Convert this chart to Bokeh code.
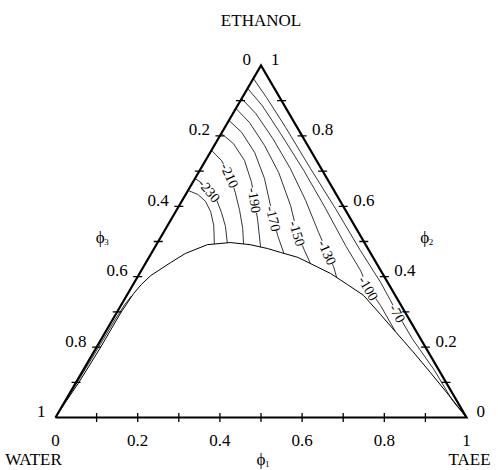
import numpy as np
from bokeh.plotting import figure
from bokeh.models import Range1d
from bokeh.embed import file_html
from bokeh.resources import INLINE
from bokeh.core.properties import value

FONT = "Liberation Serif"

# ---------------- data (ternary compositions: phi1 = TAEE, phi2 = ETHANOL) ----
vertex_names = ["WATER", "TAEE", "ETHANOL"]
vertex_phi1 = [0.0, 1.0, 0.0]
vertex_phi2 = [0.0, 0.0, 1.0]

major_ticks = [0.0, 0.2, 0.4, 0.6, 0.8, 1.0]
major_labels = ["0", "0.2", "0.4", "0.6", "0.8", "1"]
minor_ticks = [0.1, 0.2, 0.3, 0.4, 0.5, 0.6, 0.7, 0.8, 0.9]
axis_subscripts = ["1", "2", "3"]

binodal_phi1 = [0.000, 0.003, 0.007, 0.010, 0.010, 0.014, 0.020, 0.030, 0.060, 0.083,
                0.124, 0.177, 0.228, 0.276, 0.313, 0.362, 0.465, 0.521, 0.576, 0.644,
                0.705, 0.775, 0.848, 0.933, 1.000]
binodal_phi2 = [0.000, 0.048, 0.099, 0.196, 0.298, 0.352, 0.378, 0.403, 0.440, 0.466,
                0.491, 0.497, 0.491, 0.480, 0.469, 0.455, 0.409, 0.378, 0.347, 0.293,
                0.244, 0.188, 0.128, 0.057, 0.000]

# contour lines, labelled levels
c70_phi1 = [0.000, 0.059, 0.148, 0.267, 0.384, 0.505, 0.599, 0.684, 0.756, 0.855, 0.942, 1.000]
c70_phi2 = [0.963, 0.909, 0.824, 0.707, 0.594, 0.474, 0.384, 0.296, 0.224, 0.134, 0.048, 0.000]
c100_phi1 = [0.000, 0.060, 0.144, 0.253, 0.360, 0.461, 0.533, 0.578, 0.632, 0.705]
c100_phi2 = [0.935, 0.886, 0.807, 0.702, 0.594, 0.489, 0.418, 0.367, 0.318, 0.244]
c130_phi1 = [0.000, 0.055, 0.132, 0.218, 0.300, 0.377, 0.427, 0.462, 0.485]
c130_phi2 = [0.906, 0.864, 0.793, 0.707, 0.617, 0.526, 0.469, 0.429, 0.398]
c150_phi1 = [0.000, 0.053, 0.122, 0.195, 0.271, 0.327, 0.369, 0.402]
c150_phi2 = [0.878, 0.838, 0.773, 0.696, 0.602, 0.523, 0.474, 0.437]
c170_phi1 = [0.000, 0.048, 0.108, 0.169, 0.222, 0.248, 0.282, 0.322]
c170_phi2 = [0.844, 0.810, 0.753, 0.679, 0.602, 0.565, 0.517, 0.467]
c190_phi1 = [0.000, 0.044, 0.095, 0.143, 0.176, 0.212, 0.257]
c190_phi2 = [0.807, 0.778, 0.730, 0.668, 0.617, 0.560, 0.484]
c210_phi1 = [0.000, 0.039, 0.080, 0.118, 0.154, 0.187, 0.211]
c210_phi2 = [0.759, 0.730, 0.688, 0.639, 0.588, 0.537, 0.493]
c230_phi1 = [0.000, 0.025, 0.052, 0.084, 0.113, 0.142, 0.170]
c230_phi2 = [0.679, 0.665, 0.645, 0.617, 0.582, 0.543, 0.496]
c250_phi1 = [0.000, 0.029, 0.058, 0.085, 0.112, 0.140]
c250_phi2 = [0.645, 0.634, 0.614, 0.585, 0.546, 0.493]
edge_phi1 = [0.000, 0.003, 0.005, 0.006, 0.008, 0.012]
edge_phi2 = [0.000, 0.100, 0.200, 0.280, 0.320, 0.345]

contour_labels = ["-70", "-100", "-130", "-150", "-170", "-190", "-210", "-230"]
label_phi1 = [0.684, 0.578, 0.427, 0.327, 0.248, 0.176, 0.080, 0.052]
label_phi2 = [0.296, 0.367, 0.469, 0.523, 0.565, 0.617, 0.688, 0.645]
label_angle_deg = [-62, -60, -66, -73, -77, -81, -66, -50]


def tern(phi1, phi2):
    a = np.asarray(phi1, dtype=float)
    b = np.asarray(phi2, dtype=float)
    return a + 0.5 * b, b


# ---------------- figure ----------------
W, H = 498, 470
PX_X, PX_Y = 411.0, 352.0          # pixels per unit (base width, height)
x0 = -55.0 / PX_X
y0 = -53.0 / PX_Y
p = figure(width=W, height=H, output_backend="svg", toolbar_location=None,
           x_range=Range1d(x0, x0 + W / PX_X), y_range=Range1d(y0, y0 + H / PX_Y),
           x_axis_type=None, y_axis_type=None, min_border=0)
p.outline_line_color = None
p.background_fill_color = "white"
p.border_fill_color = "white"

# contours
for a, b in [(c70_phi1, c70_phi2), (c100_phi1, c100_phi2), (c130_phi1, c130_phi2),
             (c150_phi1, c150_phi2), (c170_phi1, c170_phi2), (c190_phi1, c190_phi2),
             (c210_phi1, c210_phi2), (c230_phi1, c230_phi2), (c250_phi1, c250_phi2),
             (edge_phi1, edge_phi2)]:
    xs, ys = tern(a, b)
    p.line(xs, ys, line_color="black", line_width=0.8)

# binodal
bx, by = tern(binodal_phi1, binodal_phi2)
p.line(bx, by, line_color="black", line_width=1.0)

# triangle frame
tx_, ty_ = tern(vertex_phi1 + [vertex_phi1[0]], vertex_phi2 + [vertex_phi2[0]])
p.line(tx_, ty_, line_color="black", line_width=2.2, line_join="miter")

# ticks
dx = 4.5 / PX_X
dy = 4.5 / PX_Y
mt = np.asarray(minor_ticks)
bxs, bys = tern(mt, np.zeros_like(mt))
p.segment(bxs, bys - dy, bxs, bys + dy, line_color="black", line_width=1.3)
lxs, lys = tern(np.zeros_like(mt), 1 - mt)
p.segment(lxs - dx, lys, lxs + dx, lys, line_color="black", line_width=1.3)
rxs, rys = tern(1 - mt, mt)
p.segment(rxs - dx, rys, rxs + dx, rys, line_color="black", line_width=1.3)

# tick labels
mj = np.asarray(major_ticks)
kw = dict(text_font=value(FONT), text_font_size="17px", text_color="black")
xs, ys = tern(mj, np.zeros_like(mj))
p.text(xs, ys, text=major_labels, text_align="center", text_baseline="middle",
       y_offset=23, **kw)
xs, ys = tern(np.zeros_like(mj), 1 - mj)
p.text(xs, ys, text=major_labels, text_align="right", text_baseline="middle",
       x_offset=-10, y_offset=-6, **kw)
xs, ys = tern(1 - mj, mj)
p.text(xs, ys, text=major_labels, text_align="left", text_baseline="middle",
       x_offset=10, y_offset=-6, **kw)

# vertex names
vx, vy = tern(vertex_phi1, vertex_phi2)
p.text(vx, vy, text=vertex_names, text_align="center", text_baseline="middle",
       x_offset=[-22, 3, 0], y_offset=[42, 42, -45], **kw)

# axis titles phi1 (bottom), phi2 (right), phi3 (left)
ax_p1 = [0.5, 0.5, 0.0]
ax_p2 = [0.0, 0.5, 0.5]
axx, axy = tern(ax_p1, ax_p2)
ax_xoff = [0, 61, -58]
ax_yoff = [42, -4, -4]
p.text(axx, axy, text=["\u03d5"] * 3, text_align="center", text_baseline="middle",
       x_offset=ax_xoff, y_offset=ax_yoff,
       text_font=value(FONT), text_font_size="17px", text_color="black")
p.text(axx, axy, text=axis_subscripts, text_align="left", text_baseline="middle",
       x_offset=[o + 4 for o in ax_xoff], y_offset=[o + 4 for o in ax_yoff],
       text_font=value(FONT), text_font_size="9px", text_color="black")

# contour labels
lx, ly = tern(label_phi1, label_phi2)
p.text(lx, ly, text=contour_labels, angle=np.radians(label_angle_deg),
       text_align="center", text_baseline="middle",
       text_font=value(FONT), text_font_size="14px", text_color="black",
       background_fill_color="white", background_fill_alpha=1.0)

open("out.html", "w").write(file_html(p, INLINE))
